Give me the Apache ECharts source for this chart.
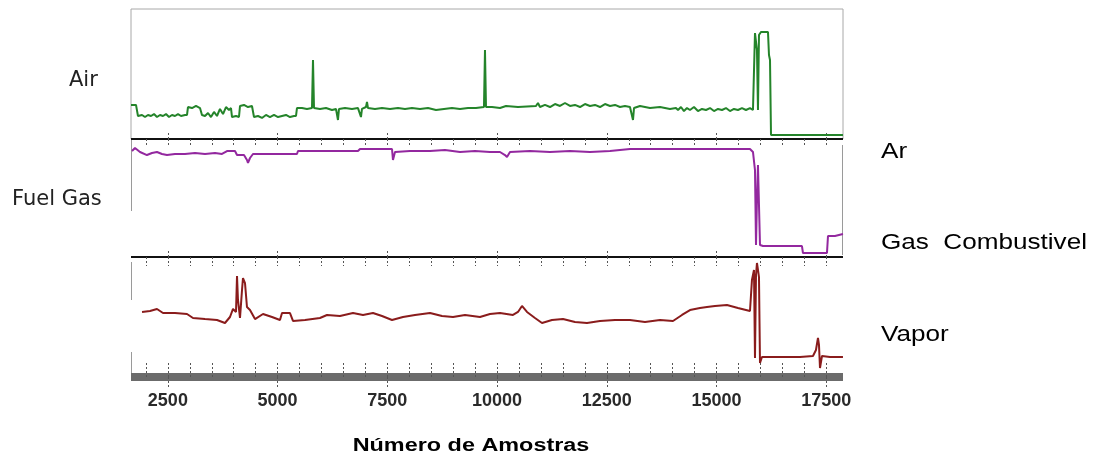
<!DOCTYPE html>
<html>
<head>
<meta charset="utf-8">
<script src="https://cdn.jsdelivr.net/npm/echarts@6.0.0/dist/echarts.min.js"></script>
<style>
  html, body { margin: 0; padding: 0; background: #fff; }
  #main { width: 1098px; height: 457px; }
</style>
</head>
<body>
<div id="main"></div>
<script>
// x range of the samples (Número de Amostras)
var sampleMin = 1660;
var sampleMax = 17880;
var labelTicks = [2500, 5000, 7500, 10000, 12500, 15000, 17500];
var smallTicks = [2000, 2500, 3000, 3500, 4000, 4500, 5000, 5500, 6000, 6500, 7000, 7500, 8000, 8500,
    9000, 9500, 10000, 10500, 11000, 11500, 12000, 12500, 13000, 13500, 14000, 14500, 15000, 15500,
    16000, 16500, 17000, 17500];

// Air / Ar  (valores relativos 0-100 do painel)
var airData = [
    [1660, 26.2], [1774, 26.2], [1819, 17.7], [1911, 18.5], [1979, 16.9], [2047, 18.5], [2116, 17.7],
    [2184, 19.2], [2252, 16.9], [2321, 18.5], [2389, 17.7], [2457, 19.2], [2526, 16.9], [2594, 18.5],
    [2662, 17.7], [2731, 19.2], [2799, 17.7], [2890, 18.5], [2936, 18.5], [2958, 24.6], [3050, 23.8],
    [3141, 25.4], [3232, 23.8], [3277, 18.5], [3346, 17.7], [3414, 20.0], [3482, 16.9], [3551, 20.8],
    [3619, 17.7], [3687, 23.1], [3756, 19.2], [3824, 24.6], [3892, 22.3], [3938, 23.8], [3961, 16.9],
    [4052, 17.7], [4120, 16.9], [4143, 25.4], [4234, 26.2], [4325, 24.6], [4416, 25.4], [4462, 16.9],
    [4553, 17.7], [4644, 16.2], [4735, 18.5], [4826, 16.9], [4918, 18.5], [5009, 16.9], [5100, 17.7],
    [5191, 18.5], [5282, 16.9], [5373, 17.7], [5419, 17.7], [5441, 23.8], [5555, 23.8], [5669, 23.1],
    [5783, 23.8], [5806, 60.8], [5829, 23.8], [5965, 23.1], [6102, 23.8], [6239, 22.3], [6330, 23.1],
    [6375, 14.6], [6398, 23.1], [6535, 23.8], [6694, 23.1], [6831, 23.8], [6899, 16.9], [6922, 23.1],
    [7013, 24.6], [7036, 28.5], [7059, 23.8], [7218, 23.1], [7378, 23.8], [7560, 23.1], [7742, 23.8],
    [7902, 23.1], [8061, 23.8], [8243, 23.1], [8426, 23.8], [8608, 22.3], [8790, 23.1], [8972, 23.8],
    [9155, 23.1], [9337, 23.8], [9519, 23.8], [9701, 24.6], [9724, 68.5], [9747, 24.6], [9884, 24.6],
    [10066, 23.8], [10203, 25.4], [10476, 24.6], [10886, 25.4], [10931, 27.7], [10977, 24.6],
    [11091, 26.2], [11205, 24.6], [11319, 26.9], [11433, 25.4], [11547, 27.7], [11660, 25.4],
    [11774, 26.2], [11888, 24.6], [12002, 26.9], [12116, 25.4], [12230, 26.2], [12344, 24.6],
    [12458, 26.9], [12572, 25.4], [12686, 26.2], [12799, 24.6], [12913, 25.4], [13027, 24.6],
    [13096, 14.6], [13119, 23.8], [13255, 25.4], [13483, 23.8], [13711, 24.6], [13938, 23.1],
    [14075, 23.8], [14121, 22.3], [14189, 24.6], [14257, 21.5], [14326, 23.8], [14394, 22.3],
    [14485, 24.6], [14576, 21.5], [14667, 23.1], [14759, 22.3], [14850, 23.8], [14941, 21.5],
    [15032, 23.1], [15123, 22.3], [15214, 23.8], [15305, 21.5], [15396, 23.1], [15487, 22.3],
    [15579, 23.8], [15670, 22.3], [15761, 23.8], [15829, 22.3], [15875, 81.5], [15920, 68.5],
    [15943, 22.3], [15966, 80.0], [16011, 82.3], [16171, 82.3], [16194, 64.6], [16217, 60.8],
    [16240, 3.1], [17879, 3.1]
];

// Fuel Gas / Gas Combustivel
var fuelData = [
    [1683, 89.8], [1751, 92.4], [1865, 89.0], [2024, 86.4], [2138, 88.1], [2252, 89.0], [2366, 87.3],
    [2480, 86.4], [2662, 87.3], [2890, 87.3], [3118, 88.1], [3346, 87.3], [3574, 88.1], [3733, 87.3],
    [3847, 89.8], [4029, 89.8], [4075, 86.4], [4234, 86.4], [4302, 82.2], [4325, 79.7], [4371, 83.9],
    [4439, 87.3], [4713, 87.3], [5054, 87.3], [5441, 87.3], [5464, 89.8], [5965, 89.8], [6421, 89.8],
    [6831, 89.8], [6877, 91.5], [7218, 91.5], [7606, 91.5], [7628, 82.2], [7674, 89.0], [8016, 89.8],
    [8471, 89.8], [8813, 90.7], [9155, 89.0], [9496, 89.8], [9838, 89.0], [10066, 89.0], [10180, 86.4],
    [10225, 84.7], [10294, 89.0], [10749, 89.8], [11205, 89.0], [11660, 89.8], [12116, 89.0],
    [12572, 89.8], [12799, 90.7], [13027, 91.5], [13483, 91.5], [13938, 91.5], [14394, 91.5],
    [14850, 91.5], [15305, 91.5], [15761, 91.5], [15829, 89.0], [15875, 73.7], [15898, 10.2],
    [15920, 48.3], [15943, 78.0], [15966, 78.0], [15989, 10.2], [16057, 9.3], [16444, 9.3],
    [16945, 9.3], [16968, 3.4], [17515, 3.4], [17538, 17.8], [17697, 17.8], [17879, 19.5]
];

// Vapor
var vaporData = [
    [1911, 54.2], [2093, 55.0], [2252, 56.7], [2389, 53.3], [2662, 53.3], [2936, 52.5], [3072, 49.2],
    [3346, 48.3], [3619, 47.5], [3801, 45.0], [3915, 50.0], [3984, 56.7], [4052, 54.2], [4075, 84.2],
    [4097, 64.2], [4143, 49.2], [4189, 72.5], [4211, 82.5], [4257, 78.3], [4302, 58.3], [4371, 55.8],
    [4416, 54.2], [4485, 48.3], [4667, 52.5], [4872, 50.0], [5054, 47.5], [5100, 53.3], [5282, 53.3],
    [5350, 46.7], [5624, 47.5], [5965, 49.2], [6125, 51.7], [6421, 50.8], [6717, 53.3], [6945, 51.7],
    [7173, 53.3], [7378, 50.8], [7606, 47.5], [7856, 50.0], [8130, 51.7], [8471, 53.3], [8745, 50.8],
    [8995, 50.0], [9269, 51.7], [9610, 50.0], [9838, 52.5], [10066, 53.3], [10362, 51.7], [10476, 54.2],
    [10567, 59.2], [10681, 54.2], [10863, 49.2], [11023, 45.0], [11250, 47.5], [11501, 48.3],
    [11774, 45.8], [12048, 45.0], [12344, 46.7], [12686, 47.5], [13027, 47.5], [13369, 45.8],
    [13711, 47.5], [14007, 46.7], [14212, 51.7], [14394, 55.8], [14622, 57.5], [14781, 58.3],
    [14964, 59.2], [15237, 60.0], [15487, 57.5], [15761, 55.0], [15806, 80.8], [15852, 89.2],
    [15875, 15.8], [15898, 85.0], [15920, 95.0], [15943, 89.2], [15966, 83.3], [15989, 11.7],
    [16034, 16.7], [16444, 16.7], [16900, 16.7], [17196, 17.5], [17264, 22.5], [17310, 32.5],
    [17333, 26.7], [17356, 7.5], [17401, 17.5], [17583, 16.7], [17879, 16.7]
];

var myChart = echarts.init(document.getElementById('main'));

var tickStyle = { color: '#555', width: 1, type: [2, 2] };

function xAxisFor(grid, pos, lineColor, lineWidth, ticks, inside, len) {
    return {
        type: 'value', gridIndex: grid, position: pos,
        min: sampleMin, max: sampleMax,
        axisLine: { show: lineWidth > 0, onZero: false, lineStyle: { color: lineColor, width: lineWidth, cap: 'butt' } },
        axisTick: { show: true, inside: inside, length: len, customValues: ticks, lineStyle: tickStyle },
        axisLabel: { show: false },
        splitLine: { show: false }
    };
}

var axes = [
    xAxisFor(0, 'bottom', '#111', 2, labelTicks, true, 7),
    xAxisFor(1, 'top', '#111', 0, smallTicks, true, 8),
    xAxisFor(1, 'bottom', '#111', 2, labelTicks, true, 7),
    xAxisFor(2, 'top', '#111', 0, smallTicks, true, 9),
    xAxisFor(2, 'bottom', '#6b6b6b', 8, smallTicks, true, 14),
    xAxisFor(2, 'bottom', '#6b6b6b', 0, labelTicks, false, 10)
];
// rótulos do eixo inferior
axes[4].axisLabel = {
    show: true, customValues: labelTicks, margin: 15,
    color: '#2a2a2a', fontFamily: 'Liberation Sans', fontWeight: 'bold', fontSize: 18,
    formatter: function (v) { return String(v); }
};

function yAxisFor(grid) {
    return { type: 'value', gridIndex: grid, min: 0, max: 100, show: false };
}

function lineSeries(name, xi, yi, color, data) {
    return {
        name: name, type: 'line', xAxisIndex: xi, yAxisIndex: yi,
        data: data, showSymbol: false, symbol: 'none',
        lineStyle: { color: color, width: 2 },
        animation: false
    };
}

var borderColor = '#9a9a9a';
function vLine(x, y1, y2) {
    return { type: 'line', shape: { x1: x, y1: y1, x2: x, y2: y2 }, style: { stroke: borderColor, lineWidth: 1 }, silent: true };
}

var option = {
    backgroundColor: '#fff',
    animation: false,
    grid: [
        { left: 131, right: 255, top: 9, height: 130, show: true, borderColor: '#a8a8a8', borderWidth: 1 },
        { left: 131, right: 255, top: 139, height: 118 },
        { left: 131, right: 255, top: 257, height: 120 }
    ],
    xAxis: axes,
    yAxis: [yAxisFor(0), yAxisFor(1), yAxisFor(2)],
    series: [
        lineSeries('Air', 0, 0, '#24842a', airData),
        lineSeries('Fuel Gas', 2, 1, '#93289f', fuelData),
        lineSeries('Vapor', 4, 2, '#8a1c1c', vaporData)
    ],
    graphic: [
        vLine(131.5, 139, 211), vLine(842.5, 145, 255),
        vLine(131.5, 262, 300), vLine(131.5, 352, 377),
        { type: 'text', x: 69, y: 81, style: { text: 'Air', fontFamily: 'DejaVu Sans', fontSize: 21, fill: '#222', verticalAlign: 'middle' } },
        { type: 'text', x: 12, y: 200, style: { text: 'Fuel Gas', fontFamily: 'DejaVu Sans', fontSize: 21, fill: '#222', verticalAlign: 'middle' } },
        { type: 'text', x: 881, y: 152, scaleX: 1.16, style: { text: 'Ar', fontFamily: 'Liberation Sans', fontSize: 22.5, fill: '#000', verticalAlign: 'middle' } },
        { type: 'text', x: 881, y: 243, scaleX: 1.16, style: { text: 'Gas  Combustivel', fontFamily: 'Liberation Sans', fontSize: 22.5, fill: '#000', verticalAlign: 'middle' } },
        { type: 'text', x: 881, y: 335, scaleX: 1.16, style: { text: 'Vapor', fontFamily: 'Liberation Sans', fontSize: 22.5, fill: '#000', verticalAlign: 'middle' } },
        { type: 'text', x: 471, y: 446, scaleX: 1.33, style: { text: 'Número de Amostras', fontFamily: 'Liberation Sans', fontWeight: 'bold', fontSize: 17.6, fill: '#000', align: 'center', verticalAlign: 'middle' } }
    ]
};
myChart.setOption(option);
</script>
</body>
</html>
